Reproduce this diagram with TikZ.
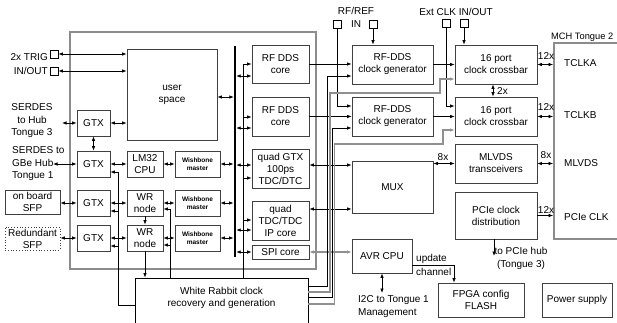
\documentclass[tikz,border=0pt]{standalone}
\usepackage{fontspec}
\setmainfont{Liberation Sans}
\usetikzlibrary{arrows.meta}
\definecolor{boxc}{HTML}{404040}
\definecolor{fpgac}{HTML}{8C8C8C}
\definecolor{gline}{HTML}{909090}
\begin{document}
\begin{tikzpicture}[x=1pt,y=-1pt,
  box/.style={draw=boxc, line width=0.8pt, fill=white, align=center, inner sep=0pt, font=\fontsize{10}{12}\selectfont},
  wbbox/.style={box, font=\fontsize{6.5}{8}\selectfont\bfseries},
  sqbox/.style={draw=black, line width=0.8pt, minimum width=8pt, minimum height=8pt, inner sep=0pt},
  conn/.style={line width=0.7pt, draw=black},
  sgl/.style={conn, -{Latex[length=4.5pt,width=3.5pt]}},
  dbl/.style={conn, {Latex[length=4.5pt,width=3.5pt]}-{Latex[length=4.5pt,width=3.5pt]}},
  gsgl/.style={sgl, draw=gline, line width=1.1pt},
  lbl/.style={font=\fontsize{10}{12.5}\selectfont, inner sep=0pt},
]
\useasboundingbox (0,0) rectangle (617,322);
\begin{scope}
\clip (0,0) rectangle (617,322);
% containers
\node[draw=fpgac, line width=1.8pt, minimum width=246pt, minimum height=237pt, inner sep=0pt] (fpga) at (193,150.5) {};
\node[draw=fpgac, line width=1.8pt, minimum width=71pt, minimum height=196pt, inner sep=0pt] (mch) at (589.5,141) {};
\node[lbl, anchor=west, font=\fontsize{9.3}{11}\selectfont] (lmch) at (551,37) {MCH Tongue 2};

% left column
\node[box, minimum width=90pt, minimum height=91pt] (user) at (172,94.5) {user\\space};
\node[box, minimum width=33pt, minimum height=26pt] (gtx1) at (93.5,123) {GTX};
\node[box, minimum width=33pt, minimum height=26pt] (gtx2) at (93.5,164) {GTX};
\node[box, minimum width=33pt, minimum height=26pt] (gtx3) at (93.5,203) {GTX};
\node[box, minimum width=33pt, minimum height=26pt] (gtx4) at (93.5,238) {GTX};
\node[box, minimum width=36pt, minimum height=26pt] (lm32) at (145,164) {LM32\\CPU};
\node[box, minimum width=36pt, minimum height=26pt] (wr1) at (145,203) {WR\\node};
\node[box, minimum width=36pt, minimum height=26pt] (wr2) at (145,238) {WR\\node};
\node[wbbox, minimum width=45pt, minimum height=26pt] (wb1) at (197.5,164) {Wishbone\\master};
\node[wbbox, minimum width=45pt, minimum height=26pt] (wb2) at (197.5,203) {Wishbone\\master};
\node[wbbox, minimum width=45pt, minimum height=26pt] (wb3) at (197.5,238) {Wishbone\\master};
\node[box, minimum width=55pt, minimum height=24pt] (sfp) at (32.5,202) {on board\\SFP};
\node[box, dotted, minimum width=55pt, minimum height=23pt] (rsfp) at (32.5,238.5) {Redundant\\SFP};
\node[sqbox] (trig1) at (54,54) {};
\node[sqbox] (trig2) at (54,71) {};
\node[lbl, anchor=east] (ltrig1) at (48,57) {2x TRIG};
\node[lbl, anchor=east] (ltrig2) at (48,71) {IN/OUT};
\node[lbl, align=center] (lser3) at (32,121) {SERDES\\to Hub\\Tongue 3};
\node[lbl, align=left, anchor=west] (lser1) at (12,164) {SERDES to\\GBe Hub\\Tongue 1};

% bus
\node[fill=black, minimum width=2.5pt, minimum height=211pt, inner sep=0pt] (bus) at (235,151.5) {};

% FPGA right column
\node[box, minimum width=57pt, minimum height=38pt] (core1) at (280.5,64) {RF DDS\\core};
\node[box, minimum width=57pt, minimum height=39pt] (core2) at (280.5,116.5) {RF DDS\\core};
\node[box, minimum width=57pt, minimum height=39pt] (qgtx) at (280.5,168.5) {quad GTX\\100ps\\TDC/DTC};
\node[box, minimum width=57pt, minimum height=39pt] (qtdc) at (280.5,220.5) {quad\\TDC/TDC\\IP core};
\node[box, minimum width=57pt, minimum height=14pt] (spi) at (280.5,252) {SPI core};

% outside right
\node[box, minimum width=81pt, minimum height=39pt] (gen1) at (392.5,64.5) {RF-DDS\\clock generator};
\node[box, minimum width=81pt, minimum height=39pt] (gen2) at (392.5,116.5) {RF-DDS\\clock generator};
\node[box, minimum width=82pt, minimum height=39pt] (cb1) at (496,64.5) {16 port\\clock crossbar};
\node[box, minimum width=82pt, minimum height=39pt] (cb2) at (496,116.5) {16 port\\clock crossbar};
\node[box, minimum width=82pt, minimum height=39pt] (mlvds) at (496,163.5) {MLVDS\\transceivers};
\node[box, minimum width=82pt, minimum height=47pt] (pcie) at (496,215.5) {PCIe clock\\distribution};
\node[box, minimum width=81pt, minimum height=52pt] (mux) at (392.5,187) {MUX};
\node[box, minimum width=60pt, minimum height=34pt] (avr) at (382,256) {AVR CPU};
\node[box, minimum width=86pt, minimum height=34pt] (flash) at (481,300) {FPGA config\\FLASH};
\node[box, minimum width=70pt, minimum height=34pt] (power) at (577,300) {Power supply};
\node[draw=black, line width=0.8pt, fill=white, minimum width=173pt, minimum height=62pt, inner sep=0pt] (wrbox) at (221.5,309) {};
\node[lbl, align=center] (wrtext) at (221.5,298) {White Rabbit clock\\recovery and generation};

\node[sqbox] (rf1) at (337,24) {};
\node[sqbox] (rf2) at (373,24) {};
\node[lbl] (lrf) at (356,11) {RF/REF};
\node[lbl] (lrfin) at (356,24) {IN};
\node[sqbox] (ext1) at (446,23) {};
\node[sqbox] (ext2) at (464,23) {};
\node[lbl] (lext) at (456,12) {Ext CLK IN/OUT};

\node[lbl, anchor=west] (ta) at (564,63.5) {TCLKA};
\node[lbl, anchor=west] (tb) at (564,115.5) {TCLKB};
\node[lbl, anchor=west] (tm) at (564,163.5) {MLVDS};
\node[lbl, anchor=west] (tp) at (564,217) {PCIe CLK};
\node[lbl] (n12a) at (546,56) {12x};
\node[lbl] (n12b) at (546,107) {12x};
\node[lbl] (n8a) at (546,155) {8x};
\node[lbl] (n12c) at (546,210) {12x};
\node[lbl] (n8b) at (443,157) {8x};
\node[lbl, anchor=west] (n2x) at (497,91) {2x};
\node[lbl, align=center] (lpcieh) at (521,258.5) {to PCIe hub\\(Tongue 3)};
\node[lbl, align=left, anchor=west] (li2c) at (358,306.5) {I2C to Tongue 1\\Management};
\node[lbl, anchor=west] (lupd) at (416,259) {update};
\node[lbl, anchor=west] (lchan) at (416,272) {channel};

% ---- connectors, left
\draw[dbl] (trig1.east) -- (trig1.east -| user.west);
\draw[dbl] (trig2.east) -- (trig2.east -| user.west);
\coordinate (ser3e) at (62,123);
\draw[dbl] (ser3e) -- (gtx1.west);
\coordinate (ser1e) at (53,164);
\draw[dbl] (ser1e) -- (gtx2.west);
\draw[dbl] (gtx1.south) -- (gtx2.north);
\draw[dbl] (gtx1.east) -- (gtx1.east -| user.west);
\draw[dbl] (gtx2.east) -- (lm32.west);
\draw[dbl] (lm32.east) -- (wb1.west);
\draw[dbl] (sfp.east |- gtx3.west) -- (gtx3.west);
\draw[dbl] (rsfp.east |- gtx4.west) -- (gtx4.west);
\draw[dbl] (gtx3.east) -- (wr1.west);
\draw[dbl] (gtx4.east) -- (wr2.west);
\draw[dbl] (wr1.east) -- (wb2.west);
\draw[dbl] (wr2.east) -- (wb3.west);
\draw[dbl] (wb1.east) -- (wb1.east -| bus.west);
\draw[dbl] (wb2.east) -- (wb2.east -| bus.west);
\draw[dbl] (wb3.east) -- (wb3.east -| bus.west);
\draw[sgl] (wr1.south) -- (wr2.north);
\draw[sgl] (wr2.south) -- (wr2.south |- wrbox.north);
\coordinate (wrl) at (118,305);
\coordinate (wrl2) at (118,172);
\coordinate (wrl3) at (118,211);
\coordinate (wrl4) at (118,246);
\draw[sgl] (wrbox.west |- wrl) -- (wrl) -- (wrl2) -- (wrl2 -| gtx2.east);
\draw[sgl] (wrl3) -- (wrl3 -| gtx3.east);
\draw[sgl] (wrl4) -- (wrl4 -| gtx4.east);
\coordinate (wrn1) at (170,209);
\coordinate (wrn2) at (170,245);
\draw[sgl] (wrbox.north -| wrn1) -- (wrn1) -- (wrn1 -| wr1.east);
\draw[sgl] (wrn2) -- (wrn2 -| wr2.east);

% ---- bus taps
\coordinate (b0) at (233.8,97);
\draw[dbl] (user.east |- b0) -- (b0);
\coordinate (b1) at (236.2,76);
\coordinate (b2) at (236.2,128);
\coordinate (b3) at (236.2,165);
\coordinate (b4) at (236.2,230);
\coordinate (b5) at (236.2,252);
\draw[dbl] (b1) -- (b1 -| core1.west);
\draw[dbl] (b2) -- (b2 -| core2.west);
\draw[dbl] (b3) -- (b3 -| qgtx.west);
\draw[dbl] (b4) -- (b4 -| qtdc.west);
\draw[dbl] (b5) -- (b5 -| spi.west);
% WR clock to cores
\coordinate (wc1) at (243,64);
\coordinate (wc2) at (243,117);
\coordinate (wc3) at (243,178);
\coordinate (wc4) at (243,220);
\draw[conn] (wrbox.north -| wc1) -- (wc1);
\draw[sgl] (wc1) -- (wc1 -| core1.west);
\draw[sgl] (wc2) -- (wc2 -| core2.west);
\draw[sgl] (wc3) -- (wc3 -| qgtx.west);
\draw[sgl] (wc4) -- (wc4 -| qtdc.west);

% ---- right side
\draw[sgl] (core1.east) -- (core1.east -| gen1.west);
\draw[sgl] (core2.east) -- (core2.east -| gen2.west);
\coordinate (mx1) at (330,165);
\coordinate (mx2) at (330,209);
\draw[dbl] (qgtx.east |- mx1) -- (mux.west |- mx1);
\draw[dbl] (qtdc.east |- mx2) -- (mux.west |- mx2);
\draw[dbl, draw=gline, line width=1.1pt] (spi.east) -- (spi.east -| avr.west);
\draw[sgl] (gen1.east) -- (gen1.east -| cb1.west);
\draw[sgl] (gen2.east) -- (gen2.east -| cb2.west);
\draw[dbl] (cb1.east) -- (cb1.east -| mch.west);
\draw[dbl] (cb2.east) -- (cb2.east -| mch.west);
\draw[dbl] (mlvds.east) -- (mlvds.east -| mch.west);
\draw[dbl] (mux.east |- mlvds.west) -- (mlvds.west);
\draw[sgl] (pcie.east) -- (pcie.east -| mch.west);
\coordinate (cbx) at (493,90);
\draw[dbl] (cb1.south -| cbx) -- (cb2.north -| cbx);
\coordinate (pd) at (494,256);
\draw[sgl] (pcie.south -| pd) -- (pd);
\draw[sgl] (rf2.south) -- (rf2.south |- gen1.north);
\coordinate (rf1c) at (337,106);
\draw[sgl] (rf1.south) -- (rf1c) -- (rf1c -| gen2.west);
\draw[sgl] (ext2.south) -- (ext2.south |- cb1.north);
\coordinate (e1c) at (446,106);
\draw[sgl] (ext1.south) -- (e1c) -- (e1c -| cb2.west);
\coordinate (i2c) at (382,293);
\draw[dbl] (avr.south -| i2c) -- (i2c);
\coordinate (uc) at (454,265);
\draw[sgl] (avr.east |- uc) -- (uc) -- (uc |- flash.north);

% ---- WR bundle
\coordinate (k1a) at (327,286); \coordinate (k1b) at (327,76);
\draw[sgl] (wrbox.east |- k1a) -- (k1a) -- (k1b) -- (k1b -| gen1.west);
\coordinate (k2a) at (330,292); \coordinate (k2b) at (330,93); \coordinate (k2c) at (440,93); \coordinate (k2d) at (440,79);
\draw[gsgl] (wrbox.east |- k2a) -- (k2a) -- (k2b) -- (k2c) -- (k2d) -- (k2d -| cb1.west);
\coordinate (k3a) at (332,297); \coordinate (k3b) at (332,128);
\draw[sgl] (wrbox.east |- k3a) -- (k3a) -- (k3b) -- (k3b -| gen2.west);
\coordinate (k4a) at (334.5,304); \coordinate (k4b) at (334.5,144); \coordinate (k4c) at (443,144); \coordinate (k4d) at (443,130);
\draw[gsgl] (wrbox.east |- k4a) -- (k4a) -- (k4b) -- (k4c) -- (k4d) -- (k4d -| cb2.west);
\end{scope}
\end{tikzpicture}
\end{document}
